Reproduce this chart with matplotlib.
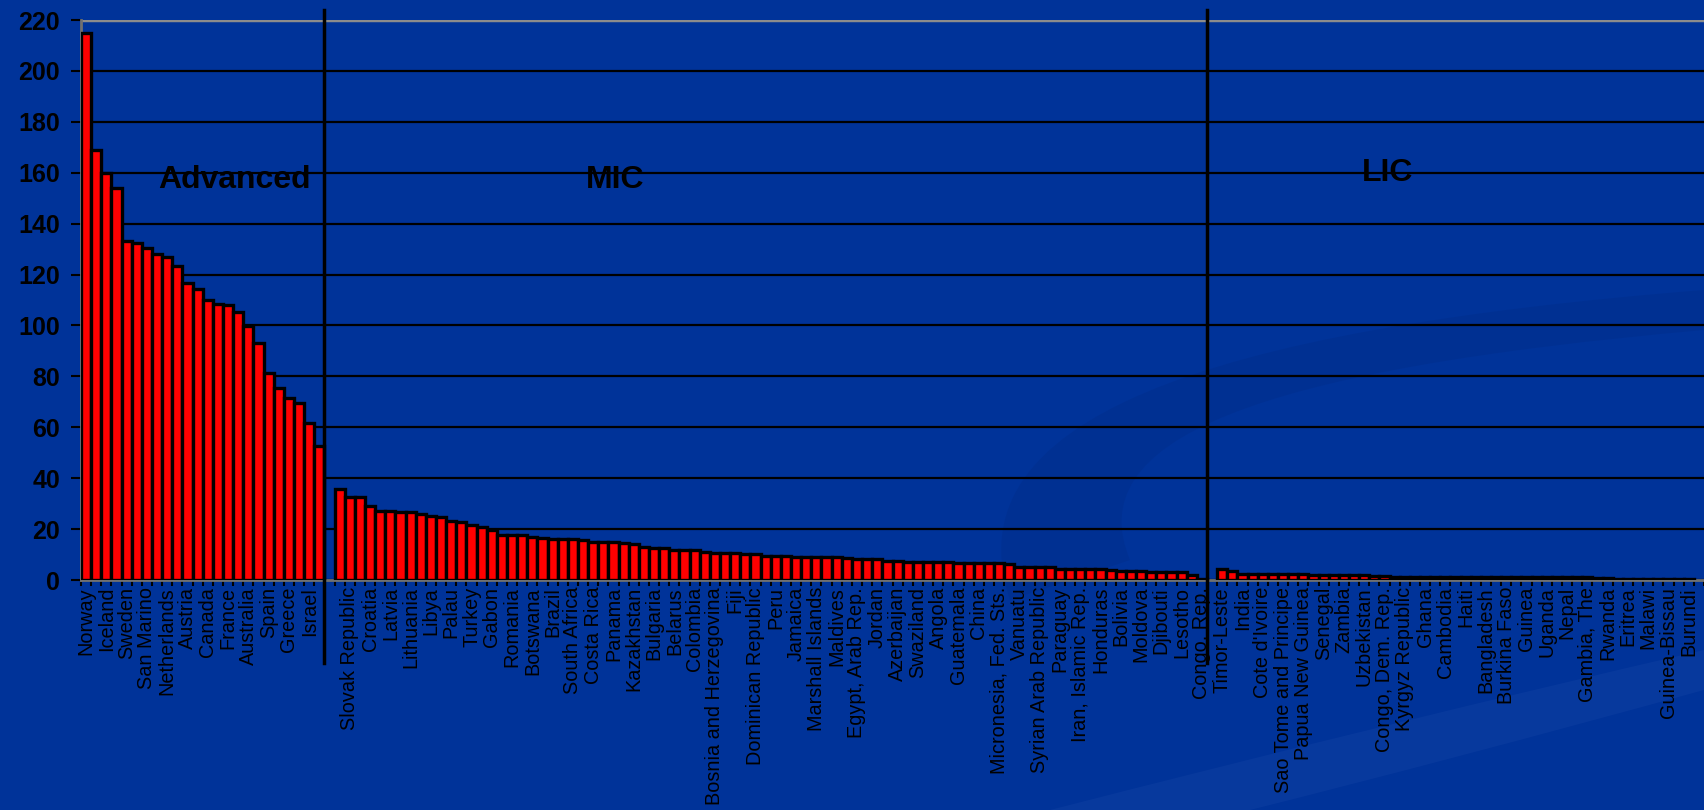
import matplotlib
matplotlib.use("Agg")
import matplotlib.pyplot as plt
from matplotlib.patches import PathPatch
from matplotlib.path import Path
import numpy as np

# Values per country, sorted within each income group
advanced_values = [215, 169, 160, 154, 133, 132.5, 130.4, 128, 126.8, 123.3,
                   116.6, 114.3, 110, 108.5, 108.2, 105.3, 99.8, 93.2, 81.5,
                   75.5, 71.6, 69.6, 61.8, 52.8]
mic_values = [35.7, 32.5, 32.5, 29.0, 27.3, 27.3, 26.9, 26.9, 26.0, 25.1,
              24.7, 23.1, 22.6, 21.8, 21.0, 19.5, 17.8, 17.8, 17.8, 16.9,
              16.5, 16.1, 16.1, 16.1, 15.6, 14.9, 14.9, 14.9, 14.5, 14.2,
              13.0, 12.6, 12.6, 11.6, 11.6, 11.6, 11.0, 10.8, 10.8, 10.8,
              10.4, 10.1, 9.5, 9.5, 9.5, 9.1, 9.1, 9.1, 9.1, 9.1,
              8.8, 8.4, 8.1, 8.1, 7.5, 7.5, 7.1, 7.1, 7.1, 7.1,
              6.9, 6.5, 6.5, 6.5, 6.5, 6.5, 6.1, 5.2, 5.2, 5.2,
              5.2, 4.5, 4.3, 4.3, 4.3, 4.3, 3.9, 3.6, 3.6, 3.6,
              3.2, 3.2, 3.2, 3.0, 1.9, 0.4]
lic_values = [4.3, 3.5, 2.4, 2.3, 2.3, 2.3, 2.2, 2.2, 2.2, 2.1,
              2.1, 2.0, 1.9, 1.8, 1.8, 1.7, 1.6, 1.3, 1.3, 1.3,
              1.3, 1.3, 1.2, 1.2, 1.2, 1.2, 1.1, 1.0, 1.0, 1.0,
              1.0, 1.0, 1.0, 1.0, 1.0, 1.0, 1.0, 0.9, 0.6, 0.5,
              0.5, 0.5, 0.5, 0.5, 0.4, 0.4, 0.4]

# Only every second country gets a visible label
advanced_labels = ["Norway", "Iceland", "Sweden", "San Marino", "Netherlands",
                   "Austria", "Canada", "France", "Australia", "Spain",
                   "Greece", "Israel"]
mic_labels = ["Slovak Republic", "Croatia", "Latvia", "Lithuania", "Libya",
              "Palau", "Turkey", "Gabon", "Romania", "Botswana", "Brazil",
              "South Africa", "Costa Rica", "Panama", "Kazakhstan", "Bulgaria",
              "Belarus", "Colombia", "Bosnia and Herzegovina", "Fiji",
              "Dominican Republic", "Peru", "Jamaica", "Marshall Islands",
              "Maldives", "Egypt, Arab Rep.", "Jordan", "Azerbaijan",
              "Swaziland", "Angola", "Guatemala", "China",
              "Micronesia, Fed. Sts.", "Vanuatu", "Syrian Arab Republic",
              "Paraguay", "Iran, Islamic Rep.", "Honduras", "Bolivia",
              "Moldova", "Djibouti", "Lesotho", "Congo, Rep."]
lic_labels = ["Timor-Leste", "India", "Cote d'Ivoire", "Sao Tome and Principe",
              "Papua New Guinea", "Senegal", "Zambia", "Uzbekistan",
              "Congo, Dem. Rep.", "Kyrgyz Republic", "Ghana", "Cambodia",
              "Haiti", "Bangladesh", "Burkina Faso", "Guinea", "Uganda",
              "Nepal", "Gambia, The", "Rwanda", "Eritrea", "Malawi",
              "Guinea-Bissau", "Burundi"]
group_names = ["Advanced", "MIC", "LIC"]

BG = "#003399"
plt.rcParams["font.family"] = ["Liberation Sans", "DejaVu Sans"]

fig = plt.figure(figsize=(17.04, 8.10), dpi=100, facecolor=BG)

# faint swooshes of the slide background
bg = fig.add_axes([0, 0, 1, 1], zorder=-5)
bg.set_xlim(0, 1704)
bg.set_ylim(810, 0)
bg.axis("off")
swoosh = Path([(1010, 600), (950, 420), (1200, 330), (1704, 290),
               (1704, 330), (1250, 370), (1080, 440), (1130, 560),
               (1010, 600)],
              [Path.MOVETO, Path.CURVE4, Path.CURVE4, Path.CURVE4,
               Path.LINETO, Path.CURVE4, Path.CURVE4, Path.CURVE4,
               Path.CLOSEPOLY])
bg.add_patch(PathPatch(swoosh, facecolor="#00287a", edgecolor="none", alpha=0.22))
band = Path([(1050, 810), (1400, 720), (1704, 650), (1704, 690),
             (1450, 760), (1250, 810), (1050, 810)],
            [Path.MOVETO, Path.CURVE3, Path.CURVE3, Path.LINETO,
             Path.CURVE3, Path.CURVE3, Path.CLOSEPOLY])
bg.add_patch(PathPatch(band, facecolor="#2a55b0", edgecolor="none", alpha=0.18))

ax = fig.add_axes([81 / 1704, 230 / 810, 1 - 81 / 1704, 560 / 810])
ax.set_facecolor("none")

# one empty slot between groups
start_adv = 0
start_mic = start_adv + len(advanced_values) + 1
start_lic = start_mic + len(mic_values) + 1
x_adv = start_adv + np.arange(len(advanced_values))
x_mic = start_mic + np.arange(len(mic_values))
x_lic = start_lic + np.arange(len(lic_values))

for xs, vals in [(x_adv, advanced_values), (x_mic, mic_values), (x_lic, lic_values)]:
    ax.bar(xs, vals, width=1.0, color="#ff0000", edgecolor="black",
           linewidth=2.4, zorder=3)

ax.set_ylim(0, 220)
ax.set_xlim(-0.5, -0.5 + (1704 - 81) / 10.23)
ax.set_yticks(np.arange(0, 221, 20))
ax.yaxis.grid(True, color="black", linewidth=1.6, zorder=1)
ax.axhline(220, color="#8c8c8c", linewidth=2.5, zorder=2)

lab_pos = list(x_adv[0::2]) + list(x_mic[1::2]) + list(x_lic[0::2])
lab_txt = advanced_labels + mic_labels + lic_labels
ax.set_xticks(lab_pos)
ax.set_xticklabels(lab_txt, rotation=90, fontsize=14.3, color="black")
ax.tick_params(axis="x", length=0, pad=5)
ax.set_xticks(np.arange(-0.5, 160, 1.0), minor=True)
ax.tick_params(axis="x", which="minor", length=4, width=1.5, color="black")
ax.tick_params(axis="y", length=7, width=1.5, color="black", pad=8,
               labelsize=18, labelcolor="black")
for t in ax.get_yticklabels():
    t.set_fontweight("bold")

for side in ["top", "right"]:
    ax.spines[side].set_visible(False)
ax.spines["left"].set_color("#707070")
ax.spines["left"].set_linewidth(2)
ax.spines["bottom"].set_color("#707070")
ax.spines["bottom"].set_linewidth(2)

# group separators reach past the plot area
for xs in [start_mic - 1, start_lic - 1]:
    ax.plot([xs - 0.5, xs - 0.5], [-32.5, 224], color="black", linewidth=2.5,
            clip_on=False, zorder=4)

for name, xg, yg in zip(group_names, [14.6, 52.2, 128.3], [157, 157, 160]):
    ax.text(xg, yg, name, ha="center", va="center", fontsize=23,
            fontweight="bold", color="black")

fig.savefig("out.png", dpi=100, facecolor=BG)
